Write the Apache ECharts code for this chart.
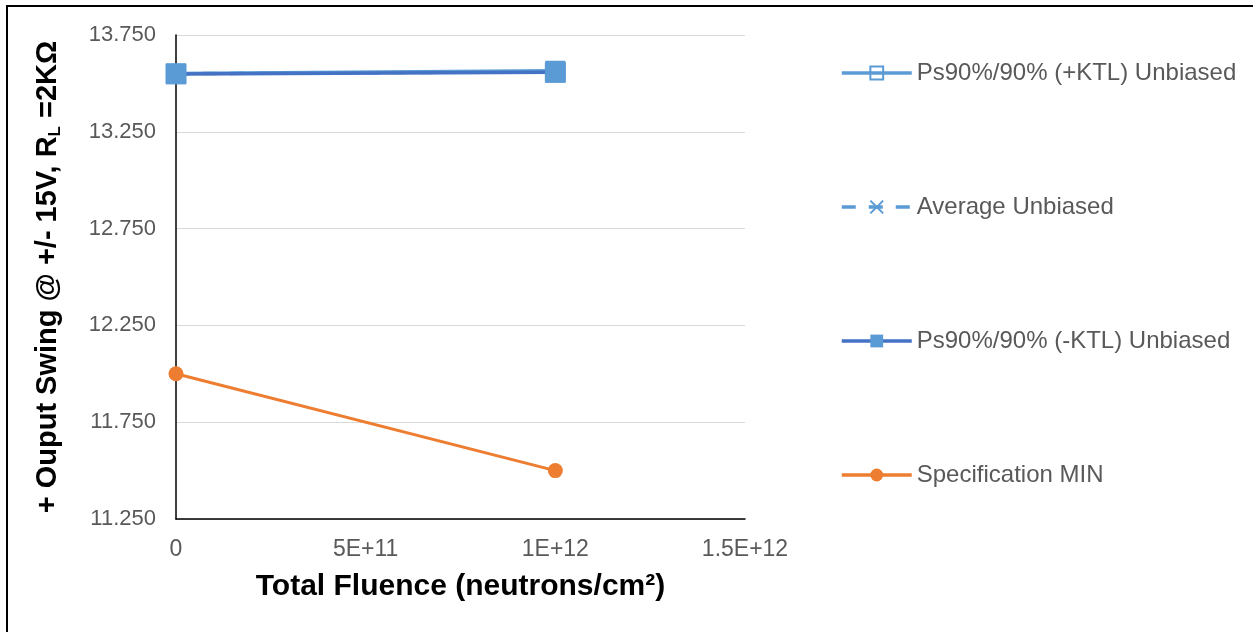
<!DOCTYPE html>
<html><head><meta charset="utf-8">
<script src="https://cdn.jsdelivr.net/npm/echarts@6/dist/echarts.min.js"></script>
<style>
html,body{margin:0;padding:0;background:#fff;}
#frame{position:absolute;left:6px;top:5px;width:1247px;height:627px;border-top:2px solid #000;border-left:2px solid #000;box-sizing:border-box;}
#chart{position:absolute;left:0;top:0;width:1253px;height:632px;}
</style></head>
<body>
<div id="frame"></div>
<div id="chart"></div>
<script>
const fluence = [0, 1e12];
const plusKTL = [13.551, 13.565];
const average = [13.550, 13.560];
const minusKTL = [13.549, 13.557];
const specMin = [12.0, 11.5];
const seriesNames = ['Ps90%/90% (+KTL) Unbiased', 'Average Unbiased', 'Ps90%/90% (-KTL) Unbiased', 'Specification MIN'];
const yTicks = ['11.250', '11.750', '12.250', '12.750', '13.250', '13.750'];
const xTicks = ['0', '5E+11', '1E+12', '1.5E+12'];

const Y0 = 11.25; // axis base; values are plotted relative to it
const pts = arr => arr.map((v, i) => [fluence[i], v - Y0]);
const crossPath = 'path://M0,0 L10,10 M10,0 L0,10';

const chart = echarts.init(document.getElementById('chart'));
chart.setOption({
  animation: false,
  textStyle: { fontFamily: 'Liberation Sans, Arial, sans-serif' },
  grid: { left: 176, right: 508, top: 35, bottom: 113, containLabel: false },
  xAxis: {
    type: 'value', min: 0, max: 1.5e12, interval: 5e11,
    name: 'Total Fluence (neutrons/cm²)', nameLocation: 'middle', nameGap: 53,
    nameTextStyle: { fontSize: 30, fontWeight: 'bold', color: '#000' },
    axisLine: { show: true, lineStyle: { color: '#000', width: 1.5 } },
    axisTick: { show: false },
    splitLine: { show: false },
    axisLabel: { fontSize: 23, color: '#595959', margin: 19,
      formatter: v => xTicks[Math.round(v / 5e11)] }
  },
  yAxis: {
    type: 'value', min: 0, max: 2.5, interval: 0.5,
    name: '{a|+ Ouput Swing @ +/- 15V, R}{s|L}{a| =2KΩ}', nameLocation: 'middle', nameGap: 112, nameRotate: 90,
    nameTextStyle: { fontSize: 29, fontWeight: 'bold', color: '#000',
      rich: { a: { fontSize: 29, fontWeight: 'bold', color: '#000', lineHeight: 32 },
              s: { fontSize: 17, fontWeight: 'bold', color: '#000', lineHeight: 32, verticalAlign: 'bottom', padding: [13, 0, 0, 0] } } },
    axisLine: { show: true, lineStyle: { color: '#000', width: 1.5 } },
    axisTick: { show: false },
    splitLine: { show: true, lineStyle: { color: '#d9d9d9', width: 1 } },
    axisLabel: { fontSize: 22, color: '#595959', margin: 20,
      formatter: v => yTicks[Math.round(v / 0.5)] }
  },
  legend: {
    orient: 'vertical', left: 835, top: 56, itemGap: 110,
    itemWidth: 70, itemHeight: 16,
    textStyle: { fontSize: 24, color: '#595959' },
    lineStyle: { width: 3.5 },
    data: seriesNames
  },
  series: [
    { name: seriesNames[0], type: 'line', data: pts(plusKTL),
      symbol: 'rect', symbolSize: 18,
      lineStyle: { color: '#5B9BD5', width: 3.5 },
      itemStyle: { color: 'rgba(255,255,255,0)', borderColor: '#5B9BD5', borderWidth: 2 } },
    { name: seriesNames[1], type: 'line', data: pts(average),
      symbol: crossPath, symbolSize: 12,
      lineStyle: { color: '#5B9BD5', width: 3.5, type: [14, 13] },
      itemStyle: { color: '#5B9BD5', borderColor: '#5B9BD5', borderWidth: 2 } },
    { name: seriesNames[2], type: 'line', data: pts(minusKTL),
      symbol: 'rect', symbolSize: 20,
      lineStyle: { color: '#4472C4', width: 3.5 },
      itemStyle: { color: '#5B9BD5', borderColor: '#5B9BD5' } },
    { name: seriesNames[3], type: 'line', data: pts(specMin),
      symbol: 'circle', symbolSize: 15,
      lineStyle: { color: '#ED7D31', width: 3 },
      itemStyle: { color: '#ED7D31' } }
  ]
});
</script>
</body></html>
